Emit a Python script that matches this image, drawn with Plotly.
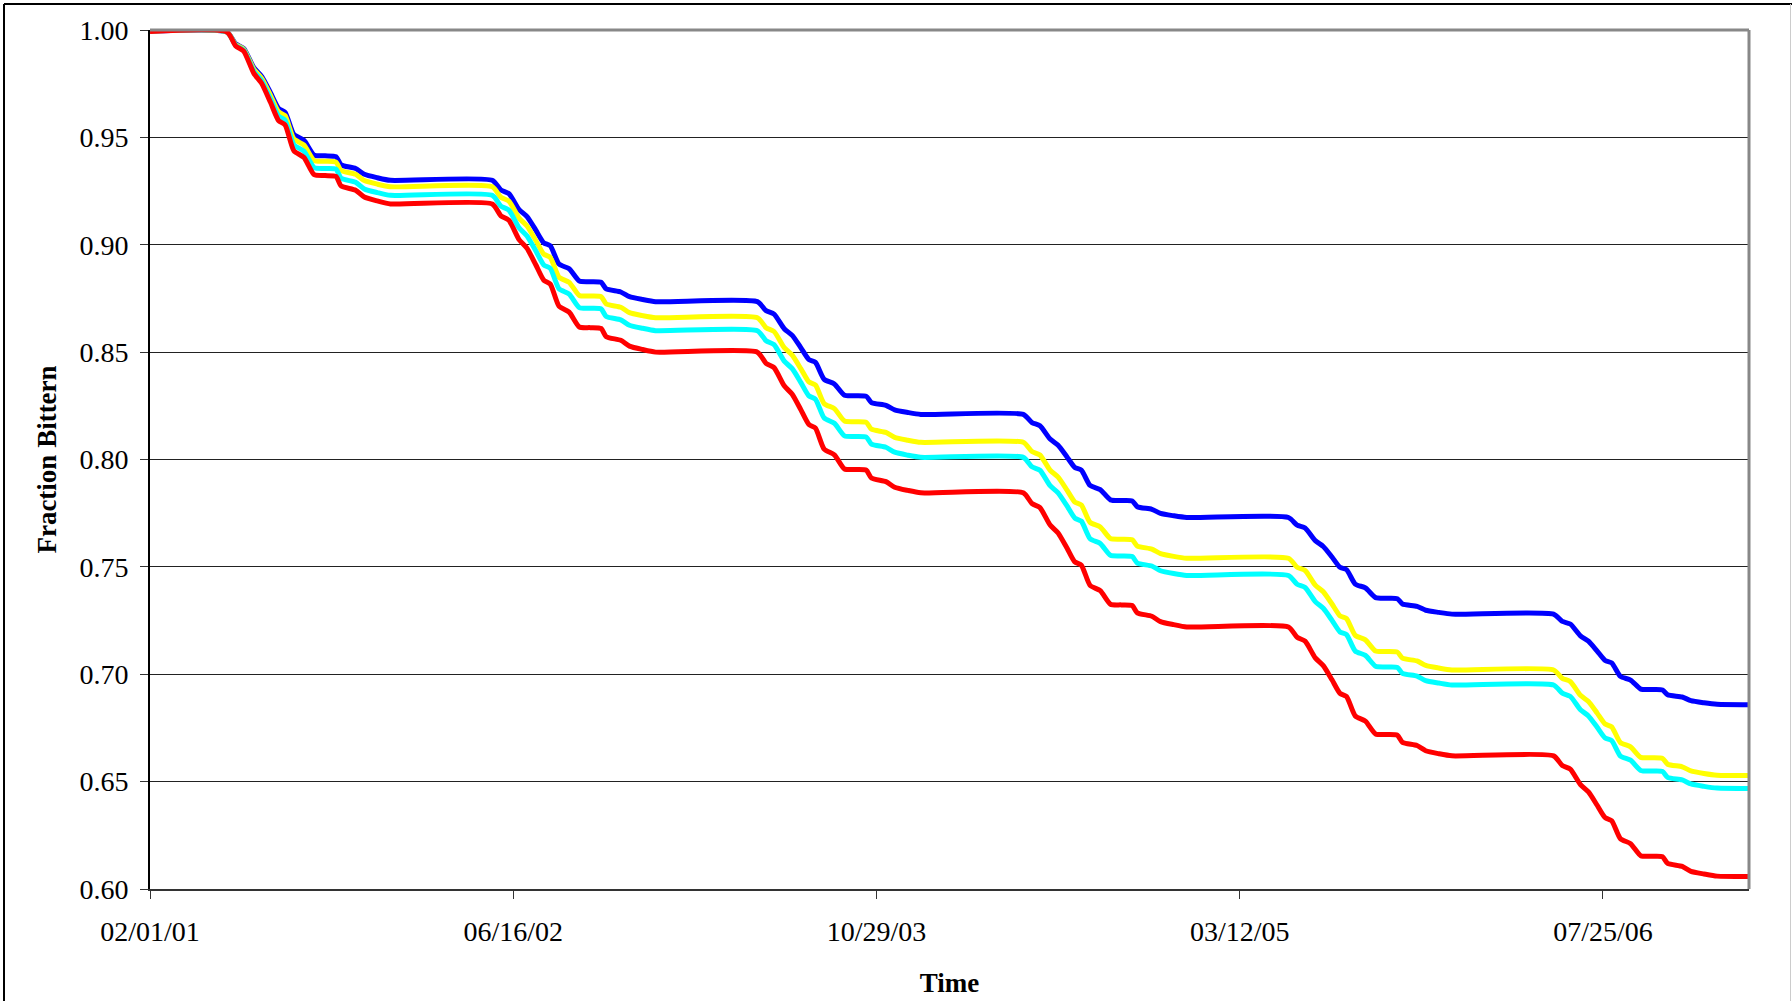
import plotly.graph_objects as go

# ---------------- data ----------------
start_date = "2001-02-01"
end_date = "2007-02-11"
season_years = [2001, 2002, 2003, 2004, 2005, 2006]
season_days = ["05-18", "05-30", "06-10", "06-24", "07-05", "07-17", "07-28", "08-06",
               "08-18", "09-01", "09-15", "09-30", "10-15", "10-22", "11-11", "11-23",
               "12-11", "12-29"]

tick_dates = ["2001-02-01", "2002-06-16", "2003-10-29", "2005-03-12", "2006-07-25"]
tick_labels = ["02/01/01", "06/16/02", "10/29/03", "03/12/05", "07/25/06"]

blue_values = [0.9995,
    .999, .9935, .9914, .9824, .9783, .9707, .9635, .9617, .9514, .9486, .9417, .9414, .9410, .9372, .9355, .9328, .9312, .930,
    .930, .9255, .9238, .9164, .9131, .9068, .9009, .8995, .8910, .8888, .8831, .8828, .8825, .8794, .8780, .8758, .8745, .8735,
    .8735, .8693, .8677, .8609, .8578, .8520, .8465, .8452, .8373, .8352, .8299, .8297, .8294, .8265, .8252, .8231, .8219, .821,
    .821, .8172, .8157, .8095, .8066, .8013, .7963, .7951, .7879, .7860, .7812, .7809, .7807, .7780, .7768, .7749, .7738, .773,
    .773, .7694, .7681, .7622, .7595, .7546, .7498, .7487, .7420, .7402, .7357, .7354, .7352, .7327, .7316, .7298, .7288, .728,
    .728, .7246, .7234, .7179, .7154, .7108, .7064, .7053, .6990, .6973, .6931, .6929, .6927, .6904, .6894, .6877, .6867, .686,
    .6858]

yellow_values = [0.9995,
    .999, .9932, .9911, .9817, .9774, .9695, .9619, .9601, .9493, .9464, .9392, .9389, .9385, .9346, .9328, .9299, .9282, .927,
    .927, .9221, .9203, .9124, .9087, .9020, .8956, .8941, .8849, .8825, .8764, .8761, .8758, .8724, .8709, .8684, .8670, .866,
    .866, .8614, .8596, .8521, .8486, .8422, .8361, .8347, .8260, .8237, .8179, .8176, .8173, .8141, .8126, .8103, .8090, .808,
    .808, .8037, .8021, .7950, .7918, .7859, .7802, .7788, .7707, .7686, .7632, .7629, .7626, .7597, .7583, .7562, .7549, .754,
    .754, .7498, .7483, .7415, .7384, .7327, .7272, .7259, .7181, .7160, .7108, .7106, .7103, .7075, .7062, .7041, .7029, .702,
    .702, .6981, .6966, .6902, .6873, .6819, .6768, .6755, .6682, .6662, .6613, .6611, .6608, .6581, .6569, .6550, .6538, .653,
    .6528]

cyan_values = [0.9995,
    .999, .9929, .9906, .9808, .9762, .9678, .9599, .9580, .9466, .9435, .9359, .9355, .9352, .9310, .9291, .9260, .9243, .923,
    .923, .9180, .9161, .9079, .9041, .8972, .8906, .8890, .8795, .8770, .8707, .8704, .8701, .8666, .8650, .8625, .8611, .860,
    .860, .8553, .8535, .8458, .8423, .8358, .8296, .8281, .8193, .8169, .8110, .8107, .8104, .8072, .8057, .8034, .8020, .801,
    .801, .7966, .7950, .7878, .7845, .7785, .7727, .7713, .7631, .7609, .7554, .7551, .7548, .7518, .7504, .7482, .7469, .746,
    .746, .7419, .7404, .7338, .7307, .7251, .7197, .7185, .7108, .7088, .7037, .7034, .7032, .7004, .6991, .6970, .6959, .695,
    .695, .6912, .6897, .6835, .6806, .6753, .6703, .6691, .6619, .6600, .6552, .6549, .6547, .6520, .6508, .6489, .6478, .647,
    .6468]

red_values = [0.9993,
    .999, .9926, .9902, .9798, .9750, .9662, .9578, .9558, .9438, .9406, .9326, .9322, .9318, .9274, .9254, .9222, .9204, .919,
    .919, .9135, .9114, .9024, .8983, .8907, .8835, .8817, .8714, .8686, .8617, .8614, .8610, .8572, .8555, .8528, .8512, .850,
    .850, .8448, .8428, .8343, .8304, .8231, .8163, .8146, .8048, .8022, .7956, .7953, .7950, .7914, .7897, .7871, .7856, .7845,
    .7845, .7795, .7776, .7695, .7658, .7589, .7523, .7508, .7414, .7389, .7326, .7323, .7320, .7286, .7270, .7245, .7231, .722,
    .722, .7172, .7154, .7076, .7040, .6974, .6911, .6896, .6806, .6782, .6722, .6719, .6716, .6683, .6668, .6644, .6630, .662,
    .662, .6575, .6558, .6486, .6452, .6390, .6332, .6318, .6234, .6211, .6155, .6152, .6150, .6119, .6105, .6082, .6070, .606,
    .6058]

series = [("Blue", blue_values, "#0000FF"),
          ("Yellow", yellow_values, "#FFFF00"),
          ("Cyan", cyan_values, "#00FFFF"),
          ("Red", red_values, "#FF0000")]

dates = [start_date] + [f"{y}-{md}" for y in season_years for md in season_days] + [end_date]

# ---------------- figure ----------------
FONT = "Liberation Serif, Times New Roman, serif"
W, H = 1792, 1001
ML, MR, MT, MB = 150, 43, 30, 112
fig = go.Figure()
for name, vals, color in series:
    fig.add_trace(go.Scatter(x=dates, y=vals, mode="lines", name=name,
                             line=dict(color=color, width=5, shape="spline", smoothing=0.6),
                             showlegend=False, hoverinfo="x+y"))

fig.update_layout(
    width=W, height=H,
    margin=dict(l=ML, r=MR, t=MT, b=MB, autoexpand=False),
    paper_bgcolor="white", plot_bgcolor="white",
    font=dict(family=FONT, size=28, color="black"),
    showlegend=False,
)

fig.update_xaxes(
    type="date", range=[start_date, end_date],
    tickmode="array", tickvals=tick_dates, ticktext=tick_labels,
    ticks="outside", ticklen=8, tickwidth=1, tickcolor="#333333",
    showline=True, linecolor="#333333", linewidth=2,
    showgrid=False, zeroline=False,
    ticklabelstandoff=8,
    title=dict(text="<b>Time</b>", font=dict(family=FONT, size=27), standoff=28),
)
fig.update_yaxes(
    range=[0.6, 1.0], dtick=0.05, tick0=0.6, tickformat=".2f",
    ticks="outside", ticklen=8, tickwidth=1, tickcolor="#333333",
    showline=True, linecolor="black", linewidth=2,
    showgrid=True, gridcolor="#222222", gridwidth=1, zeroline=False,
    ticklabelstandoff=6,
    title=dict(text="<b>Fraction Bittern</b>", font=dict(family=FONT, size=27), standoff=15),
)

pw = W - ML - MR
ph = H - MT - MB
# gray top / right frame of the plot area
fig.add_shape(type="line", xref="paper", yref="paper", x0=0, x1=1, y0=1, y1=1,
              line=dict(color="#888888", width=3))
fig.add_shape(type="line", xref="paper", yref="paper", x0=1, x1=1, y0=0, y1=1,
              line=dict(color="#888888", width=3))
# outer chart border (left and top visible)
px_l = (4 - ML) / pw
px_r = (W - ML) / pw
py_t = (H - MB - 4) / ph
py_b = -MB / ph
fig.add_shape(type="line", xref="paper", yref="paper", x0=px_l, x1=px_r, y0=py_t, y1=py_t,
              line=dict(color="black", width=2))
fig.add_shape(type="line", xref="paper", yref="paper", x0=px_l, x1=px_l, y0=py_b, y1=py_t,
              line=dict(color="black", width=2))
# thin light edge at far right
fig.add_shape(type="line", xref="paper", yref="paper", x0=(W - 1.5 - ML) / pw, x1=(W - 1.5 - ML) / pw,
              y0=py_b, y1=py_t, line=dict(color="#cccccc", width=1))

fig.write_html("out.html", config={"displayModeBar": False},
               post_script="document.body.style.margin='0';document.body.style.overflow='hidden';")
